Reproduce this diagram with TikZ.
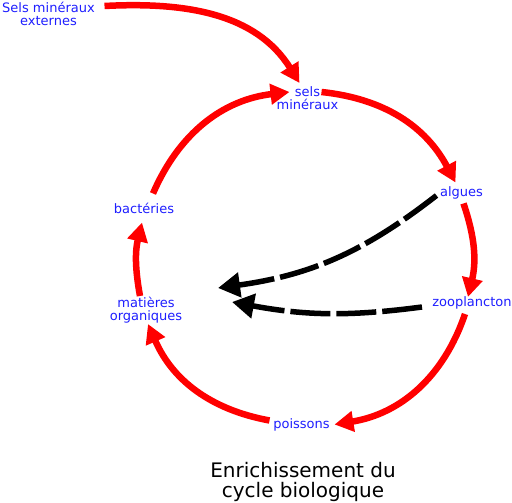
\documentclass[tikz,border=0pt]{standalone}
\usepackage{fontspec}
\setmainfont{DejaVu Sans}
\usetikzlibrary{arrows.meta}
\definecolor{lblblue}{RGB}{30,30,255}
\begin{document}
\begin{tikzpicture}[x=1pt, y=1pt,
    txt/.style={text=lblblue, font=\fontsize{13}{12.5}\selectfont, align=center, inner sep=0pt, outer sep=0pt},
    cyc/.style={red, line width=6.5pt, -{Triangle[length=19pt, width=20pt]}},
    feed/.style={black, line width=5.5pt, dash pattern=on 40pt off 6pt, -{Triangle[length=22pt, width=24pt]}}]
    \useasboundingbox (0,0) rectangle (512,503);
    \node[txt](ext) at (48.5, 489){Sels minéraux\\externes};
    \node[txt](sels) at (307.5, 405){sels\\minéraux};
    \node[txt](algues) at (461.5, 310.5){algues};
    \node[txt](zoo) at (472, 200){zooplancton};
    \node[txt](poissons) at (301.5, 78.5){poissons};
    \node[txt](mat) at (146, 193){matières\\organiques};
    \node[txt](bact) at (144, 294.5){bactéries};
    \node[font=\fontsize{20}{20}\selectfont, align=center, inner sep=0pt](title) at (303, 21.5){Enrichissement du\\cycle biologique};

    \coordinate (sink1) at (218, 215);
    \coordinate (sink2) at (232, 201);

    % the cycle
    \draw[cyc] ([shift={(56,8)}]ext.center) to[out=3, in=122] ([shift={(-8,15)}]sels.center);
    \draw[cyc] ([shift={(14,6)}]sels.center) to[bend left=28] ([shift={(-6,10)}]algues.center);
    \draw[cyc] ([shift={(2,-11)}]algues.center) to[bend left=16] ([shift={(-4,6)}]zoo.center);
    \draw[cyc] ([shift={(-7,-11)}]zoo.center) to[bend left=31] ([shift={(33,0)}]poissons.center);
    \draw[cyc] ([shift={(-32,4)}]poissons.center) to[bend left=28] ([shift={(2,-14)}]mat.center);
    \draw[cyc] ([shift={(-6,14)}]mat.center) to[bend left=12] ([shift={(-2,-14)}]bact.center);
    \draw[cyc] ([shift={(9,15)}]bact.center) to[bend left=30] ([shift={(-18,6)}]sels.center);

    % enrichment
    \draw[feed] ([shift={(-25,-3)}]algues.center) to[bend left=15] (sink1);
    \draw[feed] ([shift={(-50,-4)}]zoo.center) to[bend left=9] (sink2);
\end{tikzpicture}
\end{document}
